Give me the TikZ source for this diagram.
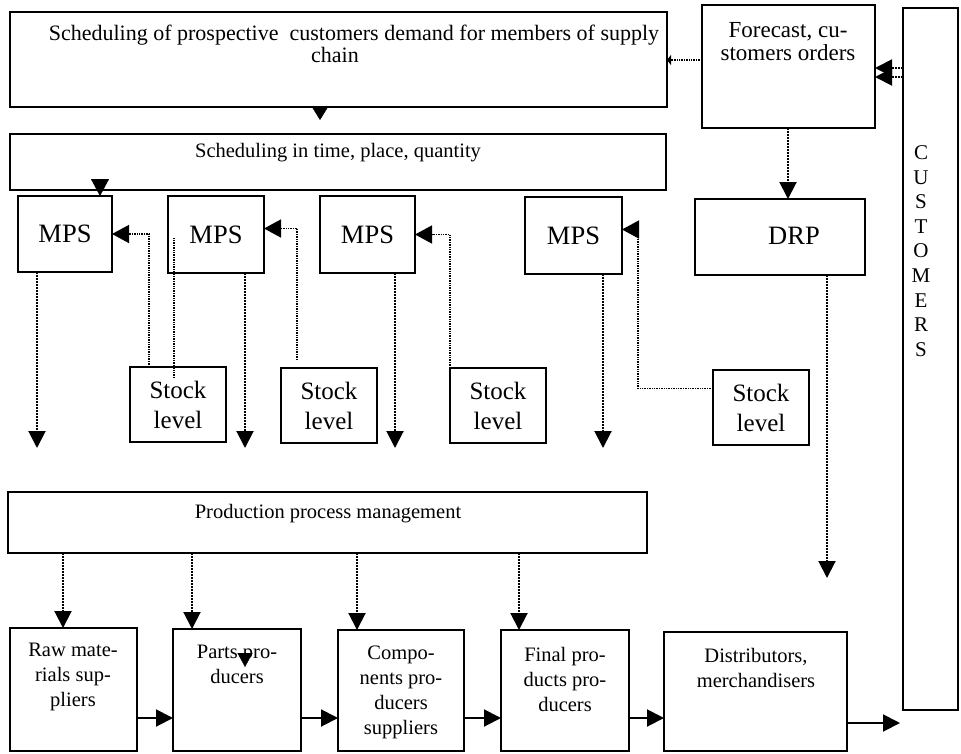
\documentclass[tikz,border=0pt]{standalone}
\usepackage{fontspec}
\setmainfont{Liberation Serif}
\usetikzlibrary{arrows.meta, positioning, calc}

\newcommand\fplan{\fontsize{22}{22}\selectfont}
\newcommand\fmid{\fontsize{20.5}{25}\selectfont}
\newcommand\ffcst{\fontsize{23}{23}\selectfont}
\newcommand\fmps{\fontsize{26.5}{30}\selectfont}
\newcommand\fstock{\fontsize{25}{30}\selectfont}
\newcommand\fcust{\fontsize{21}{24.6}\selectfont}

\tikzset{
  box/.style={draw, line width=2pt, anchor=north west, inner sep=0pt, outer sep=0pt},
  lbl/.style={align=center, inner sep=0pt},
  dots/.style={densely dotted, line width=1.4pt},
  arr/.style={line width=2pt, -{Triangle[length=17pt, width=17pt]}},
  bigarr/.style={-{Triangle[length=17pt, width=18pt]}},
  tinyarr/.style={-{Triangle[length=4pt, width=10pt]}},
}

\begin{document}
\begin{tikzpicture}[x=1pt, y=-1pt]
\useasboundingbox (0,0) rectangle (961,753);

% planning level
\node[box, minimum width=657pt, minimum height=95pt] (plan) at (10,12) {};
\node[lbl, font=\fplan] (plantxt) at (354,44) {Scheduling of prospective\ \ customers demand for members of supply\\chain\hspace*{38pt}};
\node[box, minimum width=656pt, minimum height=56pt] (sched) at (10,134) {};
\node[lbl, font=\fmid] (schedtxt) at (338,153) {Scheduling in time, place, quantity};
\node[box, minimum width=173pt, minimum height=123pt] (fcst) at (702,5) {};
\node[lbl, font=\ffcst] (fcsttxt) at (788,42) {Forecast, cu-\\stomers orders};
\node[box, minimum width=55pt, minimum height=702pt] (cust) at (903,8) {};
\node[lbl, font=\fcust] (custtxt) at (921,251) {C\\U\\S\\T\\O\\M\\E\\R\\S};

% MPS row
\node[box, minimum width=94pt, minimum height=76pt, font=\fmps] (mps1) at (18,196) {MPS};
\node[box, minimum width=96pt, minimum height=77pt, font=\fmps] (mps2) at (168,196) {MPS};
\node[box, minimum width=95pt, minimum height=77pt, font=\fmps] (mps3) at (320,196) {MPS};
\node[box, minimum width=97pt, minimum height=77pt, font=\fmps] (mps4) at (525,197) {MPS};
\node[box, minimum width=170pt, minimum height=76pt] (drp) at (695,199) {};
\node[lbl, font=\fmps] (drptxt) at (794,236) {DRP};

% stock levels
\foreach \nm/\x/\y in {st1/130/367, st2/281/368, st3/450/368, st4/713/370}
  \node[box, minimum width=96pt, minimum height=75pt, align=center, font=\fstock] (\nm) at (\x,\y) {Stock\\level};

% production level
\node[box, minimum width=639pt, minimum height=61pt] (prod) at (8,492) {};
\node[lbl, font=\fmid] (prodtxt) at (328,514) {Production process management};

\node[box, minimum width=127pt, minimum height=123pt] (raw) at (10,628) {};
\node[lbl, font=\fmid] (rawtxt) at (73,677) {Raw mate-\\rials sup-\\pliers};
\node[box, minimum width=128pt, minimum height=122pt] (parts) at (173,629) {};
\node[lbl, font=\fmid] (partstxt) at (237,664) {Parts pro-\\ducers};
\node[box, minimum width=126pt, minimum height=121pt] (comp) at (338,630) {};
\node[lbl, font=\fmid] (comptxt) at (401,692) {Compo-\\nents pro-\\ducers\\suppliers};
\node[box, minimum width=128pt, minimum height=121pt] (final) at (501,630) {};
\node[lbl, font=\fmid] (finaltxt) at (565,679) {Final pro-\\ducts pro-\\ducers};
\node[box, minimum width=183pt, minimum height=119pt] (dist) at (664,632) {};
\node[lbl, font=\fmid] (disttxt) at (756,668) {Distributors,\\merchandisers};

% free ends
\coordinate (c0) at (320,120);
\coordinate (c1) at (100,180);
\coordinate (d1) at (37,448);
\coordinate (d2) at (245,448);
\coordinate (d3) at (395,448);
\coordinate (d4) at (603,448);
\coordinate (d5) at (827,578);
\coordinate (flow) at (0,718);
\coordinate (custin) at (900,723);

% top links
\draw[-{Triangle[length=13pt, width=16pt]}] (c0 |- plan.south) -- (c0);
\draw[bigarr] (c1) -- (c1 |- mps1.north);
\draw[dots, tinyarr] (fcst.west |- 0,60) -- (plan.east |- 0,60);
\draw[dots, arr] (cust.west |- 0,68) -- (fcst.east |- 0,68);
\draw[dots, arr] (cust.west |- 0,77) -- (fcst.east |- 0,77);
\draw[dots, arr] (fcst.south -| 788,0) -- (drp.north -| 788,0);

% stock feedback
\draw[dots, bigarr] (st1.north -| 149,0) |- (mps1.east);
\draw[dots] ([xshift=6pt, yshift=-3pt]mps2.west) -- (st1.north -| 174,0) -- ++(0,11);
\draw[dots, bigarr, shorten <=8pt] (st2.north -| 297,0) |- ([yshift=6pt]mps2.east);
\draw[dots, bigarr] (st3.north west) |- (mps3.east);
\draw[dots, bigarr] ([yshift=19pt]st4.west) -| ([xshift=16pt, yshift=6pt]mps4.east) -- ([yshift=6pt]mps4.east);

% down to production
\draw[dots, arr] (d1 |- mps1.south) -- (d1);
\draw[dots, arr] (d2 |- mps2.south) -- (d2);
\draw[dots, arr] (d3 |- mps3.south) -- (d3);
\draw[dots, arr] (d4 |- mps4.south) -- (d4);
\draw[dots, arr] (d5 |- drp.south) -- (d5);

\draw[dots, arr] (prod.south -| 63,0) -- (raw.north -| 63,0);
\draw[dots, arr] (prod.south -| 192,0) -- (parts.north -| 192,0);
\draw[dots, arr] (prod.south -| 357,0) -- (comp.north -| 357,0);
\draw[dots, arr] (prod.south -| 519,0) -- (final.north -| 519,0);
\draw[-{Triangle[length=14pt, width=15pt]}] (d2 |- 0,653) -- (d2 |- 0,667);

% material flow
\draw[arr] (raw.east |- flow) -- (parts.west |- flow);
\draw[arr] (parts.east |- flow) -- (comp.west |- flow);
\draw[arr] (comp.east |- flow) -- (final.west |- flow);
\draw[arr] (final.east |- flow) -- (dist.west |- flow);
\draw[arr] (dist.east |- custin) -- (custin);
\end{tikzpicture}
\end{document}
